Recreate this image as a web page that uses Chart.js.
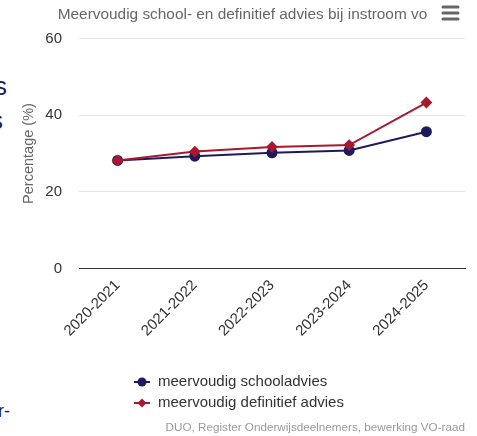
<!DOCTYPE html>
<html lang="nl">
<head>
    <meta charset="UTF-8">
    <title>Meervoudig advies</title>
    <style>
        body {
            margin: 0;
            padding: 0;
            background: #fff;
        }

        .wrap {
            position: relative;
            width: 477px;
            height: 436px;
            overflow: hidden;
        }

        .wrap canvas {
            position: absolute;
            left: 0;
            top: 0;
        }

        .edge {
            position: absolute;
            color: #1f1a5e;
            font-family: "Liberation Sans", Arial, sans-serif;
            font-size: 26px;
            line-height: 1;
        }
    </style>
</head>
<body>
    <div class="wrap">
        <span class="edge" style="left:-6px;top:73px;">s</span>
        <span class="edge" style="left:-10px;top:107px;">s</span>
        <span class="edge" style="left:-2px;top:402px;font-size:18px;">r-</span>
        <canvas id="chart" width="477" height="436"></canvas>
    </div>

    <script src="https://cdn.jsdelivr.net/npm/chart.js@4/dist/chart.umd.min.js"></script>
    <script>
    (function() {
        'use strict';

        // schooljaren
        const years = ['2020-2021', '2021-2022', '2022-2023', '2023-2024', '2024-2025'];
        const schoolAdvies = [28.2, 29.3, 30.2, 30.8, 35.7];
        const definitiefAdvies = [28.2, 30.5, 31.7, 32.2, 43.3];
        const yTicks = [0, 20, 40, 60];

        const FONT = '"Liberation Sans", Arial, sans-serif';
        const NAVY = '#1f1a5e';
        const RED = '#a8182f';

        Chart.defaults.font.family = FONT;

        // legenda met lijntje + marker, onder de grafiek
        const legendPlugin = {
            id: 'hcLegend',
            afterDraw(chart) {
                const ctx = chart.ctx;
                const opts = chart.options.plugins.hcLegend;
                ctx.save();
                ctx.font = '15px ' + FONT;
                ctx.textBaseline = 'middle';
                chart.data.datasets.forEach(function(ds, i) {
                    const y = opts.y + i * opts.rowHeight;
                    const x = opts.x;
                    ctx.strokeStyle = ds.borderColor;
                    ctx.lineWidth = 2;
                    ctx.beginPath();
                    ctx.moveTo(x, y);
                    ctx.lineTo(x + 16, y);
                    ctx.stroke();
                    ctx.fillStyle = ds.borderColor;
                    Chart.helpers.drawPoint(ctx, {
                        pointStyle: ds.pointStyle,
                        radius: ds.pointRadius,
                        rotation: 0,
                        borderWidth: 0
                    }, x + 8, y);
                    ctx.fillStyle = '#333';
                    ctx.fillText(ds.label, x + 24, y);
                });

                // bron
                ctx.font = '11.7px ' + FONT;
                ctx.fillStyle = '#999';
                ctx.textAlign = 'right';
                ctx.fillText(opts.credits, chart.width - 12, chart.height - 8);

                // menu-knop
                ctx.strokeStyle = '#666';
                ctx.lineWidth = 3;
                ctx.lineCap = 'round';
                [7, 13, 19].forEach(function(yy) {
                    ctx.beginPath();
                    ctx.moveTo(443, yy);
                    ctx.lineTo(458, yy);
                    ctx.stroke();
                });
                ctx.restore();
            }
        };

        new Chart(document.getElementById('chart'), {
            type: 'line',
            data: {
                labels: years,
                datasets: [
                    {
                        label: 'meervoudig schooladvies',
                        data: schoolAdvies,
                        borderColor: NAVY,
                        backgroundColor: NAVY,
                        pointStyle: 'circle',
                        pointRadius: 4.5,
                        borderWidth: 2,
                        order: 1
                    },
                    {
                        label: 'meervoudig definitief advies',
                        data: definitiefAdvies,
                        borderColor: RED,
                        backgroundColor: RED,
                        pointStyle: 'rectRot',
                        pointRadius: 4.5,
                        borderWidth: 2,
                        order: 0
                    }
                ]
            },
            options: {
                responsive: false,
                animation: false,
                devicePixelRatio: 1,
                layout: {
                    padding: { left: 20, right: 12, top: 0, bottom: 88 }
                },
                elements: {
                    point: { borderWidth: 0, hoverRadius: 5 },
                    line: { tension: 0 }
                },
                plugins: {
                    legend: { display: false },
                    tooltip: { enabled: false },
                    title: {
                        display: true,
                        text: 'Meervoudig school- en definitief advies bij instroom vo',
                        color: '#666',
                        font: { size: 15.4, weight: 'normal' },
                        padding: { top: 6, bottom: 14 }
                    },
                    hcLegend: {
                        x: 134,
                        y: 382,
                        rowHeight: 21,
                        credits: 'DUO, Register Onderwijsdeelnemers, bewerking VO-raad'
                    }
                },
                scales: {
                    x: {
                        offset: true,
                        grid: { display: false, drawTicks: false },
                        border: { color: '#333', width: 1 },
                        ticks: {
                            color: '#333',
                            font: { size: 15 },
                            minRotation: 45,
                            maxRotation: 45,
                            padding: 8
                        }
                    },
                    y: {
                        min: yTicks[0],
                        max: yTicks[yTicks.length - 1],
                        afterBuildTicks: function(axis) {
                            axis.ticks = yTicks.map(function(v) { return { value: v }; });
                        },
                        // vaste breedte: titel dicht bij de labels
                        afterFit: function(axis) {
                            axis.width = 59;
                        },
                        grid: { color: '#e6e6e6', drawTicks: false },
                        border: { display: false },
                        ticks: {
                            color: '#333',
                            font: { size: 15 },
                            padding: 17
                        },
                        title: {
                            display: true,
                            text: 'Percentage (%)',
                            color: '#666',
                            font: { size: 14.5 },
                            padding: { top: 0, bottom: 0 }
                        }
                    }
                }
            },
            plugins: [legendPlugin]
        });
    })();
    </script>
</body>
</html>
